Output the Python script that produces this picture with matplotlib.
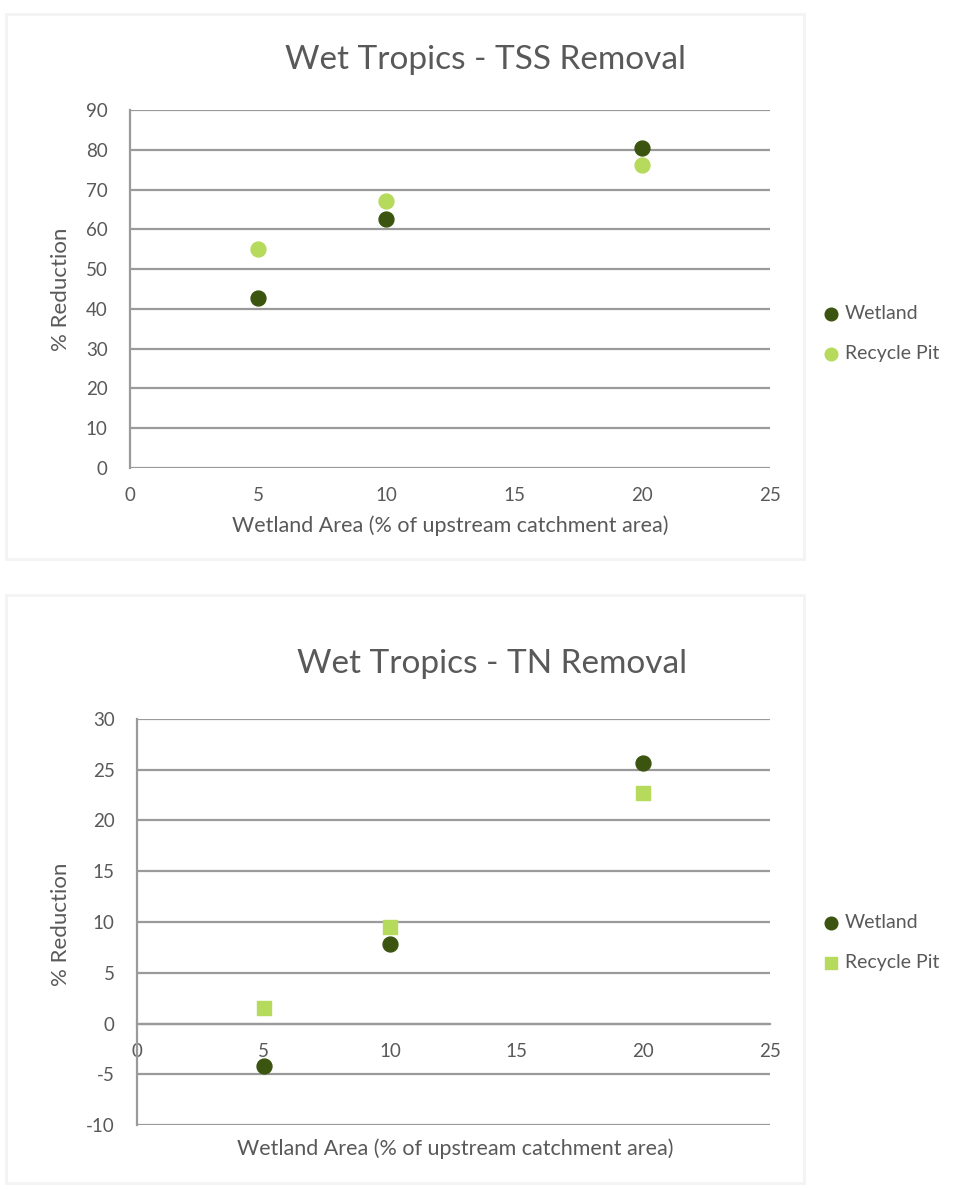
import numpy as np
import matplotlib.pyplot as plt
from matplotlib.patches import Rectangle

plt.rcParams['font.family'] = ['Lato', 'DejaVu Sans']
plt.rcParams['axes.unicode_minus'] = False

# data
area = [5, 10, 20]
tss_wetland = [42.7, 62.7, 80.5]
tss_recycle = [55.0, 67.0, 76.2]
tn_wetland = [-4.2, 7.8, 25.7]
tn_recycle = [1.5, 9.5, 22.7]
series = ['Wetland', 'Recycle Pit']

c_wet = '#3b5510'
c_rec = '#b6da5c'
grey = '#595959'
gridc = '#9a9a9a'

fig = plt.figure(figsize=(9.62, 11.89), dpi=100)

# faint chart frames like the screenshot
for (x0, y0, w, h) in [(0.006, 0.53, 0.83, 0.458), (0.006, 0.005, 0.83, 0.495)]:
    fig.patches.append(Rectangle((x0, y0), w, h, transform=fig.transFigure,
                                 fill=False, ec='#f3f3f3', lw=2))


def style(ax, yticks, ylim):
    ax.set_xlim(0, 25)
    ax.set_ylim(*ylim)
    ax.set_xticks(np.arange(0, 26, 5))
    ax.set_yticks(yticks)
    ax.grid(axis='y', color=gridc, lw=1.6)
    ax.set_axisbelow(True)
    for s in ['top', 'right', 'bottom']:
        ax.spines[s].set_visible(False)
    ax.spines['left'].set_color(gridc)
    ax.spines['left'].set_linewidth(1.6)
    ax.tick_params(length=0, labelsize=13.5, labelcolor=grey)
    ax.tick_params(axis='y', pad=16)


def legend(ax, y):
    ax.legend(loc='center left', bbox_to_anchor=(0.848, y),
              bbox_transform=fig.transFigure, frameon=False, fontsize=14,
              labelcolor=grey, handlelength=0.8, handletextpad=0.3,
              labelspacing=1.2, markerscale=0.85, borderaxespad=0)


# top chart
ax1 = fig.add_axes([0.1351, 0.6064, 0.6653, 0.3011])
style(ax1, np.arange(0, 91, 10), (0, 90))
ax1.tick_params(axis='x', pad=14)
ax1.scatter(area, tss_wetland, s=115, color=c_wet, label=series[0], zorder=3)
ax1.scatter(area, tss_recycle, s=115, color=c_rec, label=series[1], zorder=3)
fig.text(0.505, 0.9495, 'Wet Tropics - TSS Removal', ha='center', va='center',
         fontsize=24, color=grey)
fig.text(0.468, 0.5576, 'Wetland Area (% of upstream catchment area)', ha='center',
         va='center', fontsize=15.5, color=grey)
fig.text(0.063, 0.757, '% Reduction', rotation=90, ha='center', va='center',
         fontsize=16, color=grey)
legend(ax1, 0.7195)

# bottom chart
ax2 = fig.add_axes([0.1424, 0.0538, 0.658, 0.3415])
style(ax2, np.arange(-10, 31, 5), (-10, 30))
ax2.spines['bottom'].set_visible(True)
ax2.spines['bottom'].set_position(('data', 0))
ax2.spines['bottom'].set_color(gridc)
ax2.spines['bottom'].set_linewidth(1.6)
ax2.tick_params(axis='x', pad=14)
ax2.scatter(area, tn_wetland, s=115, color=c_wet, label=series[0], zorder=3)
ax2.scatter(area, tn_recycle, s=95, color=c_rec, marker='s', label=series[1], zorder=3)
fig.text(0.512, 0.4415, 'Wet Tropics - TN Removal', ha='center', va='center',
         fontsize=24, color=grey)
fig.text(0.473, 0.0336, 'Wetland Area (% of upstream catchment area)', ha='center',
         va='center', fontsize=15.5, color=grey)
fig.text(0.063, 0.2227, '% Reduction', rotation=90, ha='center', va='center',
         fontsize=16, color=grey)
legend(ax2, 0.2075)

fig.savefig('out.png', dpi=100, facecolor='white')
